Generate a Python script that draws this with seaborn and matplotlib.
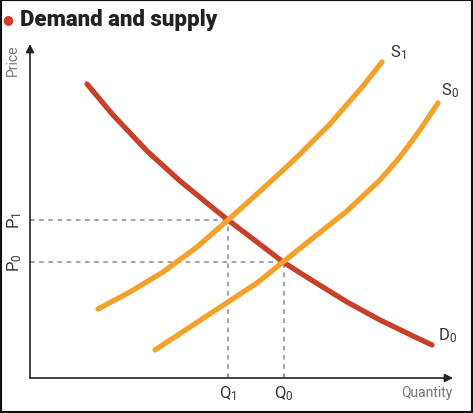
import numpy as np
import pandas as pd
import matplotlib
matplotlib.use("Agg")
import matplotlib.pyplot as plt
from matplotlib.patches import Rectangle
import seaborn as sns

# curves (x = quantity, y = price, arbitrary units)
demand_q = [57, 83, 117, 150, 183, 198, 227, 253, 283, 317, 350, 383, 402]
demand_p = [294, 263, 227, 197, 170, 158, 136, 116, 97, 76, 58, 42, 33]
supply1_q = [68, 100, 133, 167, 198, 227, 250, 267, 300, 333, 352]
supply1_p = [69, 86, 106, 131, 158, 184, 205, 221, 254, 292, 316]
supply0_q = [125, 160, 198, 227, 253, 283, 317, 350, 370, 390, 408]
supply0_p = [28, 51, 76, 95, 116, 140, 167, 198, 221, 248, 275]

# equilibria
q_labels = ["$\\mathregular{Q_1}$", "$\\mathregular{Q_0}$"]
q_values = [198, 254]
p_labels = ["$\\mathregular{P_0}$", "$\\mathregular{P_1}$"]
p_values = [116, 158]

sns.set_style("white")
plt.rcParams['font.family'] = ['Roboto', 'DejaVu Sans']

red = "#c8402a"
orange = "#f4a12a"

fig = plt.figure(figsize=(4.73, 4.14), dpi=100)
ax = fig.add_axes([30/473, 35/414, 423/473, 334/414])

df = pd.concat([
    pd.DataFrame({"q": demand_q, "p": demand_p, "curve": "D0"}),
    pd.DataFrame({"q": supply1_q, "p": supply1_p, "curve": "S1"}),
    pd.DataFrame({"q": supply0_q, "p": supply0_p, "curve": "S0"}),
])

# dashed guide lines
for q, p in [(q_values[0], p_values[1]), (q_values[1], p_values[0])]:
    ax.plot([0, q], [p, p], color="#8a8a8a", lw=1.1, dashes=(3, 3), zorder=1)
    ax.plot([q, q], [0, p], color="#8a8a8a", lw=1.1, dashes=(3, 3), zorder=1)

sns.lineplot(data=df, x="q", y="p", hue="curve", sort=False, estimator=None,
             palette={"D0": red, "S1": orange, "S0": orange},
             hue_order=["D0", "S1", "S0"], lw=3.8, legend=False, ax=ax,
             solid_capstyle="round", solid_joinstyle="round", zorder=3)

ax.set_xlim(0, 423)
ax.set_ylim(0, 334)
for s in ax.spines.values():
    s.set_visible(False)

# axes with arrows
ax.annotate("", xy=(1.0, 0), xytext=(0, 0), xycoords="axes fraction",
            arrowprops=dict(arrowstyle="-|>", color="#222222", lw=1.2,
                            mutation_scale=12, shrinkA=0, shrinkB=0))
ax.annotate("", xy=(0, 1.0), xytext=(0, 0), xycoords="axes fraction",
            arrowprops=dict(arrowstyle="-|>", color="#222222", lw=1.2,
                            mutation_scale=12, shrinkA=0, shrinkB=0))

ax.set_xticks(q_values, q_labels, fontsize=12, color="#333333")
ax.set_yticks(p_values, p_labels, fontsize=12, color="#333333",
              rotation=90, va="center")
ax.tick_params(length=0)
ax.tick_params(axis="x", pad=4)
ax.tick_params(axis="y", pad=4)
ax.set_xlabel("")
ax.set_ylabel("")

ax.text(1.0, -0.043, "Quantity", transform=ax.transAxes, ha="right", va="center",
        fontsize=10, color="#777777")
fig.text(13/473, 1 - 44/414, "Price", ha="center", va="top",
         rotation=90, fontsize=10, color="#777777")

# curve names
ax.text(supply1_q[-1] + 8, supply1_p[-1] + 1, "$\\mathregular{S_1}$",
        fontsize=12, color="#333333", va="bottom", ha="left")
ax.text(supply0_q[-1] + 3, supply0_p[-1] + 4, "$\\mathregular{S_0}$",
        fontsize=12, color="#333333", va="bottom", ha="left")
ax.text(demand_q[-1] + 6, demand_p[-1] + 1, "$\\mathregular{D_0}$",
        fontsize=12, color="#333333", va="bottom", ha="left")

# title
fig.text(8/473, 1 - 20/414, "\u25cf", color="#d23a2a", fontsize=9,
         ha="center", va="center", family="DejaVu Sans")
fig.text(20/473, 1 - 20/414, "Demand and supply", fontsize=16,
         fontweight="heavy", color="#222222", ha="left", va="center",
         family=["Roboto", "DejaVu Sans"])

fig.patches.append(Rectangle((0.002, 0.002), 0.996, 0.996, transform=fig.transFigure,
                             fill=False, edgecolor="#111111", lw=1.5))

fig.savefig("out.png", dpi=100)
